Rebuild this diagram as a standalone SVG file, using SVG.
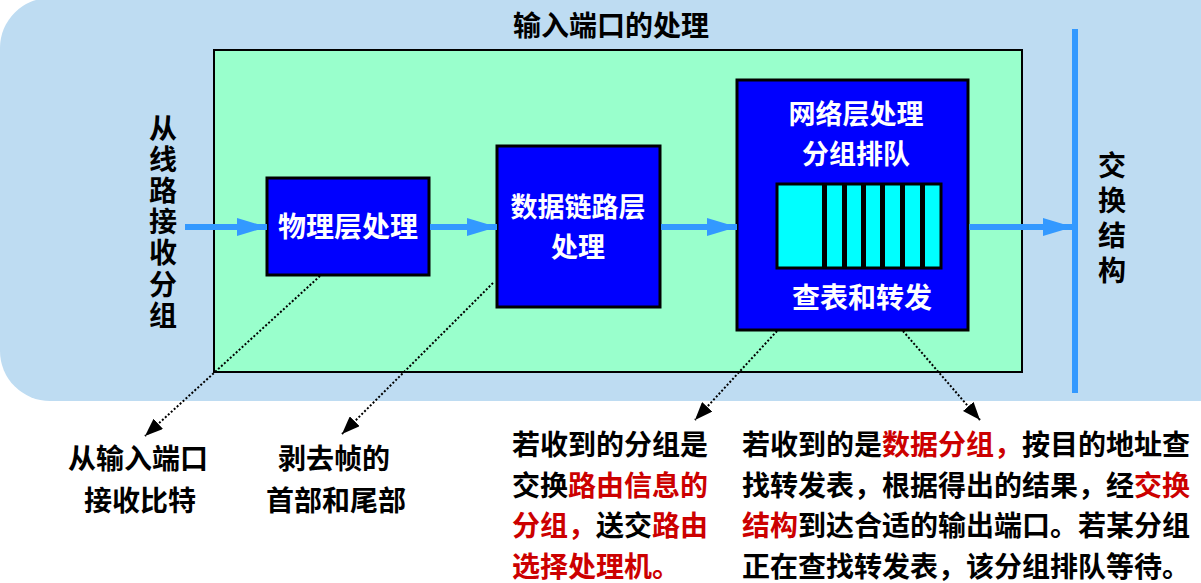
<svg xmlns="http://www.w3.org/2000/svg" width="1201" height="583" viewBox="0 0 1201 583">
<defs>
<style>
.t{font-family:"Noto Sans CJK SC","Liberation Sans",sans-serif;font-weight:bold;font-size:28px;fill:#000}
.s{font-size:27px}
.v{writing-mode:vertical-rl;text-orientation:upright}
.w{fill:#fff}
.r{fill:#CC0000}
.box{fill:#0000FF;stroke:#000;stroke-width:3}
.flow{stroke:#3399FF;stroke-width:6;fill:none}
.dot{stroke:#000;stroke-width:2;stroke-dasharray:2 2;fill:none}
.mid{text-anchor:middle}
</style>
<marker id="ba" markerUnits="userSpaceOnUse" markerWidth="30" markerHeight="18" refX="30" refY="9" orient="auto">
<path d="M0,0 L30,9 L0,18 z" fill="#3399FF"/>
</marker>
<marker id="ka" markerUnits="userSpaceOnUse" markerWidth="18" markerHeight="14" refX="18" refY="7" orient="auto">
<path d="M0,0 L18,7 L0,14 z" fill="#000"/>
</marker>
</defs>
<rect width="1201" height="583" fill="#fff"/>
<rect x="0" y="-2" width="1260" height="403" rx="50" ry="50" fill="#BEDCF2"/>
<text class="t mid" x="611" y="36">输入端口的处理</text>
<g id="port">
<rect x="214" y="50" width="808" height="322" fill="#99FFCC" stroke="#000" stroke-width="2"/>
</g>
<g id="switch">
<line x1="1075" y1="29" x2="1075" y2="393" stroke="#3399FF" stroke-width="6"/>
<text class="t v" x="1112" y="151" letter-spacing="7">交换结构</text>
</g>
<g id="input-label">
<text class="t v" x="163" y="114" letter-spacing="3.2">从线路接收分组</text>
</g>
<g id="phy">
<rect class="box" x="267" y="178" width="162" height="97"/>
<text class="t w mid" x="348" y="237">物理层处理</text>
</g>
<g id="link">
<rect class="box" x="497" y="146" width="163" height="161"/>
<text class="t s w mid" x="578" y="217">数据链路层</text>
<text class="t s w mid" x="578" y="257">处理</text>
</g>
<g id="net">
<rect class="box" x="737" y="80" width="231" height="250"/>
<text class="t s w mid" x="856" y="124">网络层处理</text>
<text class="t s w mid" x="856" y="164">分组排队</text>
<rect x="777" y="184" width="164" height="84" fill="#00FFFF" stroke="#000" stroke-width="3"/>
<g fill="#000">
<rect x="822" y="184" width="5" height="84"/>
<rect x="842" y="184" width="5" height="84"/>
<rect x="861" y="184" width="5" height="84"/>
<rect x="880" y="184" width="5" height="84"/>
<rect x="900" y="184" width="5" height="84"/>
<rect x="920" y="184" width="5" height="84"/>
</g>
<text class="t w mid" x="862" y="308">查表和转发</text>
</g>
<g id="connectors">
<line class="flow" x1="185" y1="227" x2="267" y2="227" marker-end="url(#ba)"/>
<line class="flow" x1="430" y1="227" x2="497" y2="227" marker-end="url(#ba)"/>
<line class="flow" x1="661" y1="227" x2="737" y2="227" marker-end="url(#ba)"/>
<line class="flow" x1="969" y1="227" x2="1073" y2="227" marker-end="url(#ba)"/>
<line class="dot" x1="320" y1="276" x2="145" y2="436" marker-end="url(#ka)"/>
<line class="dot" x1="493" y1="283" x2="342" y2="434" marker-end="url(#ka)"/>
<line class="dot" x1="777" y1="331" x2="695" y2="420" marker-end="url(#ka)"/>
<line class="dot" x1="903" y1="331" x2="980" y2="420" marker-end="url(#ka)"/>
</g>
<g id="note-phy">
<text class="t mid" x="138" y="469">从输入端口</text>
<text class="t mid" x="140" y="511">接收比特</text>
</g>
<g id="note-link">
<text class="t mid" x="334" y="469">剥去帧的</text>
<text class="t mid" x="336" y="511">首部和尾部</text>
</g>
<g id="note-route">
<text class="t" x="512" y="455">若收到的分组是</text>
<text class="t" x="512" y="496">交换<tspan class="r">路由信息的</tspan></text>
<text class="t" x="512" y="536"><tspan class="r">分组，</tspan>送交<tspan class="r">路由</tspan></text>
<text class="t r" x="512" y="577">选择处理机。</text>
</g>
<g id="note-data">
<text class="t" x="742" y="455">若收到的是<tspan class="r">数据分组，</tspan>按目的地址查</text>
<text class="t" x="742" y="496">找转发表，根据得出的结果，经<tspan class="r">交换</tspan></text>
<text class="t" x="742" y="536"><tspan class="r">结构</tspan>到达合适的输出端口。若某分组</text>
<text class="t" x="742" y="577">正在查找转发表，该分组排队等待。</text>
</g>
</svg>
